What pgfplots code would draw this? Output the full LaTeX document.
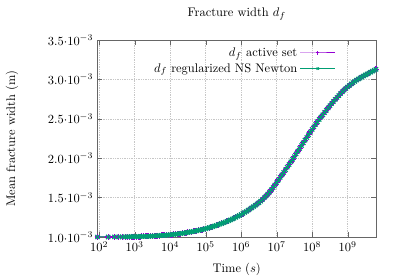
\documentclass[border=0pt]{standalone}
\usepackage{pgfplots}
\pgfplotsset{compat=1.18}
\usepackage{pgfplotstable}
\definecolor{gpPurple}{HTML}{9400D3}
\definecolor{gpGreen}{HTML}{009E73}

% time (s), mean fracture width (units of 1e-3 m)
\pgfplotstableread{
t w
90 1.000
180 1.000
270 1.001
360 1.001
450 1.002
540 1.002
630 1.003
720 1.003
810 1.004
900 1.004
1000 1.004
1122 1.0045
1259 1.005
1413 1.006
1585 1.007
1778 1.0075
1995 1.008
2239 1.009
2512 1.010
2818 1.011
3162 1.012
3548 1.0135
3981 1.015
4467 1.0165
5012 1.018
5623 1.0195
6310 1.021
7079 1.0225
7943 1.024
8913 1.026
1.000e4 1.028
1.122e4 1.0305
1.259e4 1.033
1.413e4 1.0355
1.585e4 1.038
1.778e4 1.041
1.995e4 1.044
2.239e4 1.0475
2.512e4 1.051
2.818e4 1.0545
3.162e4 1.058
3.548e4 1.062
3.981e4 1.066
4.467e4 1.0705
5.012e4 1.075
5.623e4 1.0795
6.310e4 1.084
7.079e4 1.089
7.943e4 1.094
8.913e4 1.0995
1.000e5 1.105
1.122e5 1.1115
1.259e5 1.118
1.413e5 1.125
1.585e5 1.132
1.778e5 1.1395
1.995e5 1.147
2.239e5 1.155
2.512e5 1.163
2.818e5 1.1715
3.162e5 1.180
3.548e5 1.189
3.981e5 1.198
4.467e5 1.2075
5.012e5 1.217
5.623e5 1.2275
6.310e5 1.238
7.079e5 1.2495
7.943e5 1.261
8.913e5 1.273
1.000e6 1.285
1.122e6 1.298
1.259e6 1.311
1.413e6 1.3255
1.585e6 1.340
1.778e6 1.355
1.995e6 1.370
2.239e6 1.386
2.512e6 1.402
2.818e6 1.4185
3.162e6 1.435
3.548e6 1.455
3.981e6 1.475
4.467e6 1.4975
5.012e6 1.520
5.623e6 1.545
6.310e6 1.570
7.079e6 1.599
7.943e6 1.628
8.913e6 1.659
1.000e7 1.690
1.122e7 1.7225
1.259e7 1.755
1.413e7 1.7875
1.585e7 1.820
1.778e7 1.853
1.995e7 1.886
2.239e7 1.9195
2.512e7 1.953
2.818e7 1.9865
3.162e7 2.020
3.548e7 2.055
3.981e7 2.090
4.467e7 2.125
5.012e7 2.160
5.623e7 2.1945
6.310e7 2.229
7.079e7 2.263
7.943e7 2.297
8.913e7 2.331
1.000e8 2.365
1.122e8 2.398
1.259e8 2.430
1.413e8 2.461
1.585e8 2.492
1.778e8 2.522
1.995e8 2.551
2.239e8 2.580
2.512e8 2.609
2.818e8 2.638
3.162e8 2.666
3.548e8 2.693
3.981e8 2.719
4.467e8 2.745
5.012e8 2.770
5.623e8 2.795
6.310e8 2.819
7.079e8 2.842
7.943e8 2.864
8.913e8 2.885
1.000e9 2.905
1.122e9 2.924
1.259e9 2.942
1.413e9 2.959
1.585e9 2.975
1.778e9 2.990
1.995e9 3.004
2.239e9 3.018
2.512e9 3.031
2.818e9 3.044
3.162e9 3.056
3.548e9 3.068
3.981e9 3.080
4.467e9 3.092
5.012e9 3.104
5.623e9 3.116
6.300e9 3.128
}\datatable

\begin{document}
\begin{tikzpicture}
\path[use as bounding box] (0,0) rectangle (320bp,224bp);
\begin{axis}[
  at={(78bp,34.4bp)}, anchor=south west,
  scale only axis, width=222.8bp, height=157.6bp,
  xmode=log, log basis x=10,
  xmin=90, xmax=6.3e9,
  ymin=1.0, ymax=3.5,
  xtick={1e2,1e3,1e4,1e5,1e6,1e7,1e8,1e9},
  ytick={1.0,1.5,2.0,2.5,3.0,3.5},
  yticklabel={$\pgfmathprintnumber[fixed,fixed zerofill,precision=1]{\tick}{\cdot}10^{-3}$},
  grid=major, grid style={densely dotted, black!22, line width=0.4pt},
  axis line style={black!60}, tick style={black!60},
  major tick length=4bp, minor tick length=2bp,
  title={Fracture width $d_f$},
  title style={at={(axis description cs:0.5,1)}, anchor=base, yshift=12.8bp},
  xlabel={Time ($s$)},
  xlabel style={at={(axis description cs:0.5,0)}, anchor=base, yshift=-28bp},
  ylabel={Mean fracture width (m)},
  ylabel style={at={(axis description cs:-0.307,0.5)}, anchor=center},
  legend plot pos=right,
  legend cell align=right,
  legend style={at={(axis description cs:1,1)}, anchor=north east,
    xshift=-29bp, yshift=-2bp, draw=none, fill=none},
  legend image code/.code={\draw[mark repeat=2,mark phase=2,mark size=1.3pt,line width=0.8pt] plot coordinates {(0bp,0bp) (14bp,0bp) (28bp,0bp)};},
]
\addplot[gpPurple, line width=1pt, mark=+, mark size=2.4pt] table[x=t,y=w]{\datatable};
\addlegendentry{$d_f$ active set}
\addplot[gpGreen, line width=1pt, mark=x, mark size=2.4pt] table[x=t,y=w]{\datatable};
\addlegendentry{$d_f$ regularized NS Newton}
\end{axis}
\end{tikzpicture}
\end{document}
